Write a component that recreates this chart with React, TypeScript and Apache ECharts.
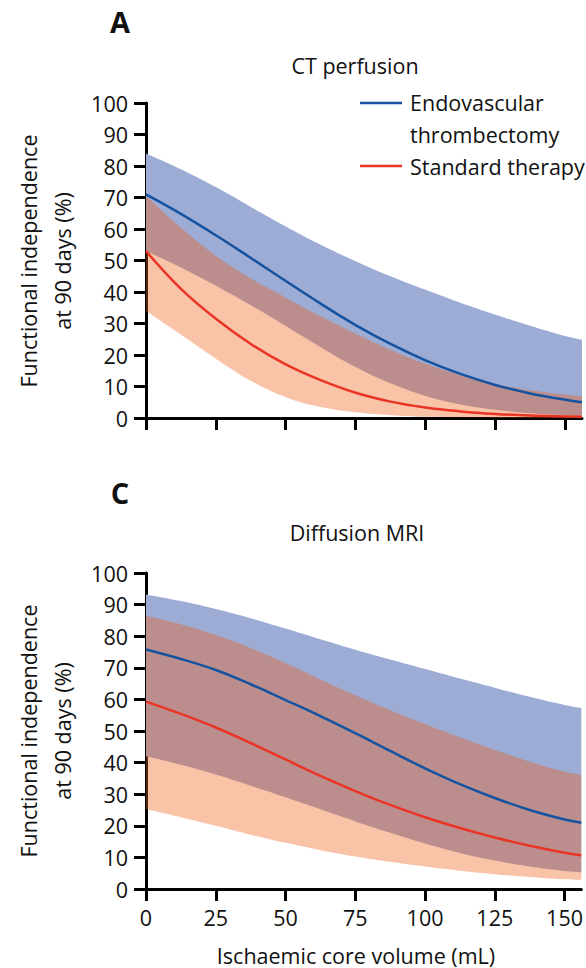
import React, { useEffect, useRef } from 'react';
import * as echarts from 'echarts';

// Ischaemic core volume (mL) sample points
const xValues = [0, 12.5, 25, 37.5, 50, 62.5, 75, 87.5, 100, 112.5, 125, 137.5, 150, 156];
const xTicks = [0, 25, 50, 75, 100, 125, 150];

// Panel A — CT perfusion
const ctEvtMean = [71, 64.8, 58, 50.8, 43.5, 36.3, 29.5, 23.5, 18.3, 14, 10.5, 7.8, 5.8, 5];
const ctEvtUpper = [84, 79, 73.3, 67, 60.8, 55, 49.8, 45, 40.7, 36.6, 32.8, 29.3, 26, 24.8];
const ctEvtLower = [53, 47.8, 42, 35.8, 29.2, 22.5, 16.2, 11, 7, 4.3, 2.6, 1.5, 0.9, 0.7];
const ctStdMean = [53, 41, 31.5, 23.5, 17, 12, 8, 5.2, 3.3, 2.1, 1.3, 0.8, 0.5, 0.4];
const ctStdUpper = [70.5, 60.5, 51.5, 44.3, 38.2, 32.3, 26.8, 21.6, 17.2, 13.6, 10.8, 8.8, 7.4, 7];
const ctStdLower = [34, 26.5, 18.8, 11.8, 6.6, 3.5, 1.8, 0.9, 0.4, 0.2, 0.1, 0.1, 0.05, 0.05];

// Panel C — Diffusion MRI
const mriEvtMean = [75.8, 72.8, 69.3, 64.8, 59.8, 54.7, 49.3, 43.7, 38.2, 33.2, 28.8, 25, 22, 21];
const mriEvtUpper = [93.2, 91.1, 88.6, 85.7, 82.4, 79, 75.7, 72.6, 69.6, 66.6, 63.7, 60.8, 58.2, 57.2];
const mriEvtLower = [42, 39.3, 36.2, 32.7, 29, 25.2, 21.4, 17.8, 14.4, 11.4, 9, 7.1, 5.7, 5.3];
const mriStdMean = [59.3, 55.4, 51.1, 46.2, 41, 35.8, 31, 26.6, 22.7, 19.3, 16.3, 13.7, 11.5, 10.7];
const mriStdUpper = [86.5, 83.8, 80.4, 76.3, 71.5, 66.3, 61.3, 56.6, 52.2, 48, 44, 40.3, 37.1, 36.2];
const mriStdLower = [25.3, 22.7, 20, 17.2, 14.6, 12.3, 10.3, 8.6, 7.1, 5.8, 4.7, 3.8, 3.1, 2.9];

const FONT = '"Open Sans", "Noto Sans", sans-serif';
const TEXT = '#111';
const BLUE = '#1553a0';
const RED = '#ea3426';
const BLUE_BAND = 'rgb(157,172,212)';
const RED_BAND = 'rgba(239,93,20,0.37)';
const FS = 21.5;

function pairs(vals: number[]) {
  return xValues.map((x, i) => [x, vals[i]]);
}

// value first, x second, so that stacking acts on the y dimension
function bandSeries(id: string, lower: number[], upper: number[], g: number, color: string) {
  return [
    {
      type: 'line',
      xAxisIndex: g,
      yAxisIndex: g,
      stack: id,
      encode: { x: 1, y: 0 },
      data: xValues.map((x, i) => [lower[i], x]),
      symbol: 'none',
      smooth: 0.4,
      silent: true,
      lineStyle: { opacity: 0 },
    },
    {
      type: 'line',
      xAxisIndex: g,
      yAxisIndex: g,
      stack: id,
      encode: { x: 1, y: 0 },
      data: xValues.map((x, i) => [upper[i] - lower[i], x]),
      symbol: 'none',
      smooth: 0.4,
      silent: true,
      lineStyle: { opacity: 0 },
      areaStyle: { color, opacity: 1 },
    },
  ];
}

function lineSeries(vals: number[], g: number, color: string) {
  return {
    type: 'line',
    xAxisIndex: g,
    yAxisIndex: g,
    data: pairs(vals),
    symbol: 'none',
    smooth: 0.4,
    silent: true,
    lineStyle: { color, width: 2.5 },
  };
}

function xAxis(g: number, showLabels: boolean) {
  return {
    type: 'value',
    gridIndex: g,
    min: 0,
    max: 156,
    interval: 25,
    axisLine: { show: true, onZero: false, lineStyle: { color: '#000', width: 3 } },
    axisTick: { show: true, length: 12, lineStyle: { color: '#000', width: 3 }, customValues: xTicks },
    axisLabel: {
      show: showLabels,
      customValues: xTicks,
      margin: 17,
      fontSize: FS,
      color: TEXT,
      fontFamily: FONT,
    },
    splitLine: { show: false },
  };
}

function yAxis(g: number) {
  return {
    type: 'value',
    gridIndex: g,
    min: 0,
    max: 100,
    interval: 10,
    axisLine: { show: true, onZero: false, lineStyle: { color: '#000', width: 3 } },
    axisTick: { show: true, length: 12, lineStyle: { color: '#000', width: 3 } },
    axisLabel: { margin: 18, fontSize: FS, color: TEXT, fontFamily: FONT },
    splitLine: { show: false },
  };
}

function txt(text: string, x: number, y: number, size: number, extra: any = {}) {
  return {
    type: 'text',
    x,
    y,
    silent: true,
    style: {
      text,
      fill: TEXT,
      fontSize: size,
      fontFamily: FONT,
      align: 'center',
      verticalAlign: 'middle',
      ...extra,
    },
  };
}

export default function App() {
  const ref = useRef<HTMLDivElement>(null);

  useEffect(() => {
    document.body.style.margin = '0';
    if (!ref.current) return;
    const chart = echarts.init(ref.current, undefined, { renderer: 'svg' });
    const yTitle = 'Functional independence\nat 90 days (%)';
    chart.setOption({
      animation: false,
      grid: [
        { left: 146, top: 103, width: 436, height: 315 },
        { left: 146, top: 573, width: 436, height: 316 },
      ],
      xAxis: [xAxis(0, false), xAxis(1, true)],
      yAxis: [yAxis(0), yAxis(1)],
      series: [
        ...bandSeries('ctEvt', ctEvtLower, ctEvtUpper, 0, BLUE_BAND),
        ...bandSeries('ctStd', ctStdLower, ctStdUpper, 0, RED_BAND),
        lineSeries(ctEvtMean, 0, BLUE),
        lineSeries(ctStdMean, 0, RED),
        ...bandSeries('mriEvt', mriEvtLower, mriEvtUpper, 1, BLUE_BAND),
        ...bandSeries('mriStd', mriStdLower, mriStdUpper, 1, RED_BAND),
        lineSeries(mriEvtMean, 1, BLUE),
        lineSeries(mriStdMean, 1, RED),
      ],
      graphic: [
        txt('A', 120, 21, 29, { fontWeight: 'bold' }),
        txt('C', 120, 492, 29, { fontWeight: 'bold' }),
        txt('CT perfusion', 355, 65, FS),
        txt('Diffusion MRI', 357, 532, FS),
        {
          type: 'text',
          x: 45,
          y: 261,
          rotation: Math.PI / 2,
          silent: true,
          style: { text: yTitle, fill: TEXT, fontSize: FS, fontFamily: FONT, align: 'center', verticalAlign: 'middle', lineHeight: 34 },
        },
        {
          type: 'text',
          x: 45,
          y: 731,
          rotation: Math.PI / 2,
          silent: true,
          style: { text: yTitle, fill: TEXT, fontSize: FS, fontFamily: FONT, align: 'center', verticalAlign: 'middle', lineHeight: 34 },
        },
        txt('Ischaemic core volume (mL)', 356, 955, FS),
        { type: 'line', silent: true, shape: { x1: 360, y1: 103, x2: 402, y2: 103 }, style: { stroke: BLUE, lineWidth: 2.5 } },
        { type: 'line', silent: true, shape: { x1: 360, y1: 166, x2: 402, y2: 166 }, style: { stroke: RED, lineWidth: 2.5 } },
        txt('Endovascular', 410, 102, FS, { align: 'left' }),
        txt('thrombectomy', 410, 134, FS, { align: 'left' }),
        txt('Standard therapy', 410, 166, FS, { align: 'left' }),
      ],
    });
    return () => chart.dispose();
  }, []);

  return <div ref={ref} style={{ width: 586, height: 968 }} />;
}
